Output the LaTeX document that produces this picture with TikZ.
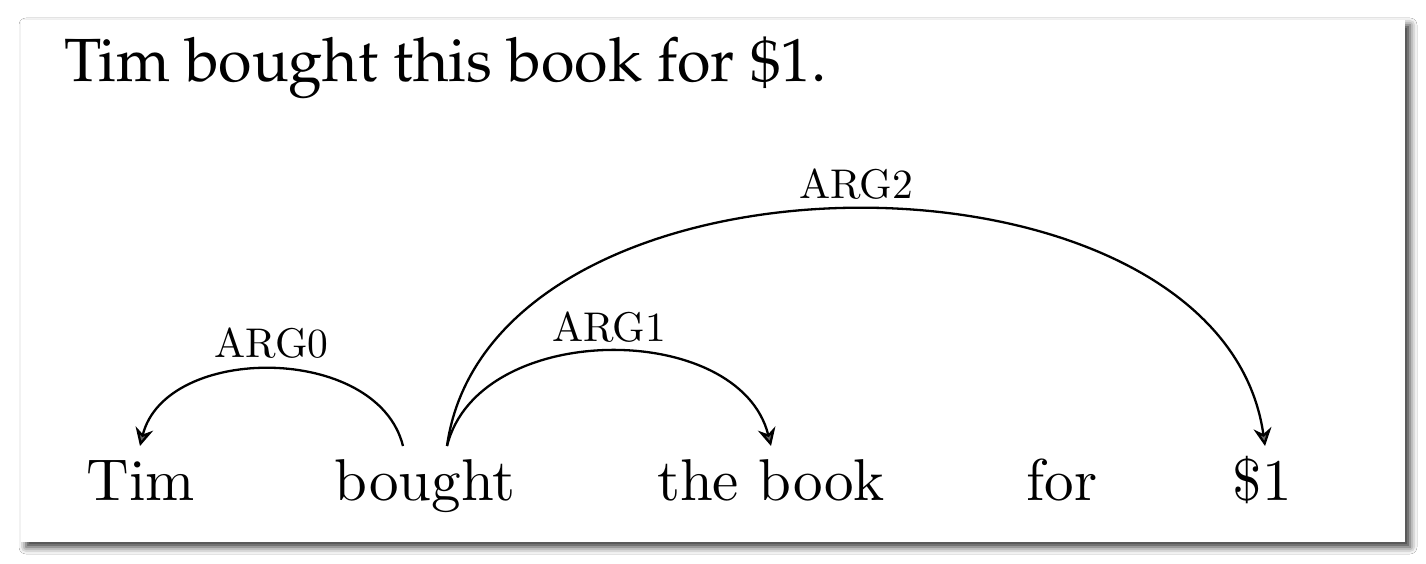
\documentclass[tikz,border=0pt]{standalone}
\usepackage[T1,TU]{fontenc}
\usetikzlibrary{arrows.meta,shadows.blur}
\newcommand\palfont{\fontencoding{T1}\fontfamily{ppl}\selectfont}
\newcommand\wordtxt[1]{\scalebox{5.9}{\fontsize{10}{12}\selectfont #1}}
\newcommand\lbltxt[1]{\scalebox{4.15}{\fontsize{10}{12}\selectfont #1}}
\tikzset{
  card/.style={fill=white, draw=none, blur shadow={shadow xshift=5pt, shadow yshift=-5pt, shadow blur radius=7pt, shadow opacity=80}},
  word/.style={anchor=base, inner sep=0pt},
  lbl/.style={anchor=base, inner sep=0pt},
  titletext/.style={anchor=base west, inner sep=0pt, font=\palfont\fontsize{61}{72}\selectfont},
  dep/.style={line width=2.3pt, -{Stealth[length=18pt,width=18pt,inset=6pt]}},
}
\begin{document}
\begin{tikzpicture}[x=1pt,y=1pt]
\useasboundingbox (0,0) rectangle (1426,563);
\fill[white] (0,0) rectangle (1426,563);
\path[card] (21,21) rectangle (1405,543);
\node[titletext] (title) at (64,481) {Tim bought this book for \$1.};
\node[word] (tim) at (140.5,63) {\wordtxt{Tim}};
\node[word] (bought) at (425,63) {\wordtxt{bought}};
\node[word] (book) at (771,63) {\wordtxt{the book}};
\node[word] (for) at (1062,63) {\wordtxt{for}};
\node[word] (dollar) at (1262,63) {\wordtxt{\$1}};
\coordinate (bL) at (403,117);
\coordinate (bR) at (447,117);
\coordinate (timT) at (140,117);
\coordinate (bookT) at (771,117);
\coordinate (dollarT) at (1265,117);
\draw[dep] (bL) to[out=104,in=76,looseness=1.03] node[lbl, pos=0.5, yshift=12pt] (a0) {\lbltxt{ARG0}} (timT);
\draw[dep] (bR) to[out=76,in=104,looseness=1.03] node[lbl, pos=0.5, yshift=10pt] (a1) {\lbltxt{ARG1}} (bookT);
\draw[dep] (bR) to[out=82,in=98,looseness=1.0] node[lbl, pos=0.5, yshift=11pt] (a2) {\lbltxt{ARG2}} (dollarT);
\end{tikzpicture}
\end{document}
